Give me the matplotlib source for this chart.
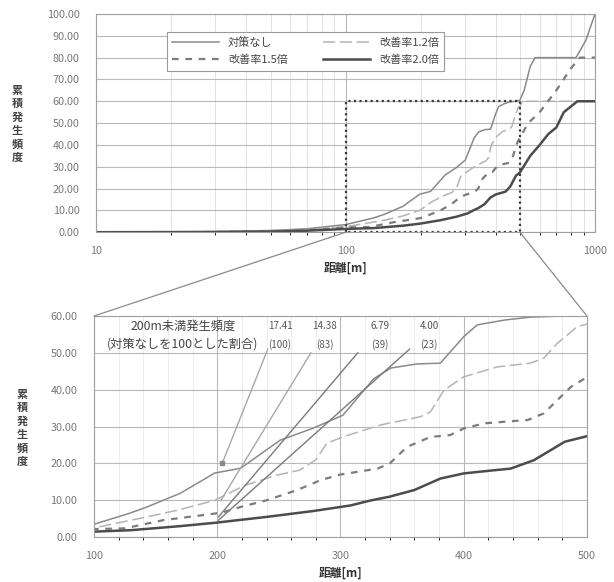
import numpy as np
import matplotlib.pyplot as plt
from matplotlib.patches import ConnectionPatch
from matplotlib.ticker import FixedLocator, FuncFormatter, MultipleLocator

plt.rcParams['font.family'] = ['Noto Sans CJK JP', 'DejaVu Sans']

# cumulative frequency vs distance
dist_a = [10, 30, 50, 70, 100, 129, 143, 170, 198, 219, 251, 278, 302, 327, 341, 362, 381, 400, 411, 433, 454, 480, 500,
          520, 550, 575, 840, 920, 1000]
freq_a = [0, 0.3, 0.8, 1.6, 3.5, 6.5, 8.2, 11.9, 17.4, 18.7, 26.3, 29.6, 33.1, 43.0, 45.9, 47.0, 47.2, 54.4, 57.6, 58.9, 59.7, 60.0, 60.5,
          65, 76, 80, 80, 88, 100]

dist_b = [10, 30, 50, 70, 100, 143, 170, 198, 222, 248, 267, 280, 289, 302, 332, 365, 373, 384, 400, 427, 454, 465, 476, 492, 500,
          513, 1000]
freq_b = [0, 0.2, 0.6, 1.2, 2.5, 5.5, 7.5, 10.0, 14.0, 16.8, 18.2, 21.0, 25.5, 27.2, 30.4, 32.7, 34.0, 39.9, 43.5, 46.2, 47.2, 48.6, 52.6, 57.1, 57.8,
          60, 60]

dist_c = [10, 30, 50, 70, 100, 125, 156, 198, 205, 219, 240, 265, 284, 300, 330, 340, 354, 373, 389, 400, 417, 452, 465, 476, 487, 500,
          540, 600, 700, 800, 870, 1000]
freq_c = [0, 0.1, 0.4, 0.9, 2.2, 2.4, 4.6, 6.4, 6.8, 8.2, 10.0, 12.8, 15.5, 17.0, 18.6, 20.0, 24.5, 27.2, 27.7, 29.5, 30.9, 31.8, 33.6, 37.2, 40.8, 43.4,
          50, 55, 65, 75, 80, 80]

dist_d = [10, 30, 50, 70, 100, 130, 170, 198, 240, 278, 308, 325, 340, 360, 381, 400, 420, 438, 457, 482, 500,
          550, 600, 650, 700, 750, 850, 1000]
freq_d = [0, 0.1, 0.3, 0.7, 1.5, 1.9, 3.0, 3.9, 5.5, 7.1, 8.6, 10.0, 11.0, 12.8, 15.9, 17.3, 18.0, 18.6, 20.9, 25.9, 27.4,
          35, 40, 45, 48, 55, 60, 60]

legend_names = ['対策なし', '改善率1.2倍', '改善率1.5倍', '改善率2.0倍']

# table in the lower chart
table_title = ['200m未満発生頻度', '(対策なしを100とした割合)']
table_values = ['17.41', '14.38', '6.79', '4.00']
table_ratios = ['(100)', '(83)', '(39)', '(23)']
table_cols = [251, 287, 332, 372]

# leader lines from the 200m points up to the table
leader_x0 = [204, 203, 201, 201]
leader_y0 = [20.0, 10.0, 5.5, 4.6]
leader_x1 = [241, 276, 314, 356]
leader_y1 = [51, 50, 50, 51]
leader_col = ['#a8a8a8', '#a8a8a8', '#7a7a7a', '#7a7a7a']

zoom_x = [100, 500]
zoom_y = [0, 60]

styles = [
    dict(color='#8a8a8a', lw=1.1, ls='-'),
    dict(color='#b4b4b4', lw=1.1, ls=(0, (8, 3))),
    dict(color='#7c7c7c', lw=1.6, ls=(0, (3, 3))),
    dict(color='#4c4c4c', lw=1.8, ls='-'),
]
series = [(dist_a, freq_a), (dist_b, freq_b), (dist_c, freq_c), (dist_d, freq_d)]

fig = plt.figure(figsize=(6.14, 5.82), dpi=100)
ax1 = fig.add_axes([0.157, 0.601, 0.812, 0.375])
ax2 = fig.add_axes([0.153, 0.077, 0.803, 0.380])

tick_col = '#787878'
for ax in (ax1, ax2):
    for s in ax.spines.values():
        s.set_color('#a0a0a0')
        s.set_linewidth(0.8)
    ax.tick_params(length=0, labelsize=7.8, colors=tick_col)
    ax.tick_params(axis='y', pad=12)
    ax.tick_params(axis='x', pad=10)
    ax.yaxis.set_major_formatter(FuncFormatter(lambda v, p: '%.2f' % v))
    ax.set_axisbelow(True)

# --- upper chart (log distance)
lines = []
for (x, y), st in zip(series, styles):
    ln, = ax1.plot(x, y, **st)
    lines.append(ln)
ax1.set_xscale('log')
ax1.set_xlim(10, 1000)
ax1.set_ylim(0, 100)
ax1.yaxis.set_major_locator(MultipleLocator(10))
ax1.xaxis.set_major_locator(FixedLocator([10, 100, 1000]))
ax1.xaxis.set_major_formatter(FuncFormatter(lambda v, p: '%d' % v))
ax1.xaxis.set_minor_formatter(FuncFormatter(lambda v, p: ''))
ax1.grid(which='major', color='#b8b8b8', lw=0.8)
ax1.grid(which='minor', axis='x', color='#e2e2e2', lw=0.7)
ax1.set_xlabel('距離[m]', fontsize=8.5, fontweight='bold', color='#333333', labelpad=4)

# zoom window
ax1.plot([zoom_x[0], zoom_x[0], zoom_x[1], zoom_x[1], zoom_x[0]],
         [zoom_y[0], zoom_y[1], zoom_y[1], zoom_y[0], zoom_y[0]],
         color='#3a3a3a', lw=1.6, ls=(0, (1, 1.5)))

leg = ax1.legend([lines[0], lines[2], lines[1], lines[3]],
                 [legend_names[0], legend_names[2], legend_names[1], legend_names[3]],
                 ncol=2, loc='upper left', bbox_to_anchor=(0.13, 0.945),
                 fontsize=8, handlelength=4.2, columnspacing=3.2,
                 fancybox=False, edgecolor='#999999', framealpha=1,
                 borderpad=0.5, labelspacing=0.6)
leg.get_frame().set_linewidth(0.8)
for t in leg.get_texts():
    t.set_color('#444444')

# --- lower chart (linear distance)
for (x, y), st in zip(series, styles):
    ax2.plot(x, y, **st)
ax2.set_xlim(100, 500)
ax2.set_ylim(0, 60)
ax2.xaxis.set_major_locator(MultipleLocator(100))
ax2.xaxis.set_minor_locator(MultipleLocator(20))
ax2.yaxis.set_major_locator(MultipleLocator(10))
ax2.grid(which='major', color='#b8b8b8', lw=0.8)
ax2.grid(which='minor', axis='x', color='#ececec', lw=0.7)
ax2.set_xlabel('距離[m]', fontsize=8.5, fontweight='bold', color='#333333', labelpad=4)

for x0, y0, x1, y1, c in zip(leader_x0, leader_y0, leader_x1, leader_y1, leader_col):
    ax2.plot([x0, x1], [y0, y1], color=c, lw=1.0)
ax2.plot(leader_x0[0], leader_y0[0], marker='s', ms=3.5, color='#8a8a8a')

ax2.text(172, 57.3, table_title[0], ha='center', va='center', fontsize=8.8, color='#444444')
ax2.text(172, 52.3, table_title[1], ha='center', va='center', fontsize=8.8, color='#444444')
for cx, v, r in zip(table_cols, table_values, table_ratios):
    ax2.text(cx, 57.3, v, ha='center', va='center', fontsize=7, color='#555555')
    ax2.text(cx, 52.3, r, ha='center', va='center', fontsize=7, color='#555555')

# lines joining the zoom window to the lower chart
for xa, xb in ((zoom_x[0], 100), (zoom_x[1], 500)):
    con = ConnectionPatch(xyA=(xa, 0), coordsA=ax1.transData,
                          xyB=(xb, 60), coordsB=ax2.transData,
                          color='#8a8a8a', lw=0.9)
    fig.add_artist(con)

ylab = '\n'.join('累積発生頻度')
fig.text(0.028, 0.787, ylab, ha='center', va='center', fontsize=8, fontweight='bold',
         color='#444444', linespacing=1.05)
fig.text(0.036, 0.265, ylab, ha='center', va='center', fontsize=8, fontweight='bold',
         color='#444444', linespacing=1.05)

fig.savefig('out.png', dpi=100)
